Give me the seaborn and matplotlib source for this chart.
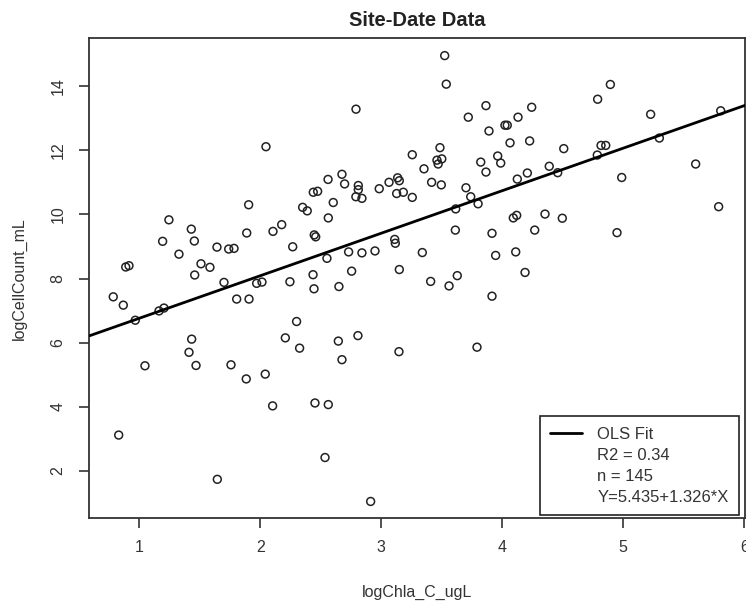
import matplotlib
matplotlib.use("Agg")
import matplotlib.pyplot as plt
from matplotlib.lines import Line2D
import numpy as np
import pandas as pd
import seaborn as sns

# ---- data ----
log_chla = [
    0.785, 0.868, 0.967, 1.163, 1.204, 1.458, 1.700, 1.805, 1.907, 1.970,
    2.014, 2.245, 2.436, 2.444, 2.650, 2.755, 3.149, 0.830, 1.047, 1.433,
    1.411, 1.469, 1.645, 1.758, 1.884, 2.041, 2.102, 2.207, 2.300, 2.325,
    2.452, 2.562, 2.535, 2.645, 2.675, 2.807, 2.912, 3.146, 3.408, 3.560,
    3.628, 3.915, 3.791, 4.188, 3.524, 3.537, 3.865, 3.719, 4.022, 4.041,
    4.130, 4.243, 3.890, 4.064, 4.226, 3.256, 3.485, 3.460, 3.500, 3.470,
    3.353, 3.416, 3.496, 3.182, 3.256, 3.822, 3.865, 3.962, 3.987, 3.700,
    3.739, 3.800, 3.615, 4.124, 4.207, 4.388, 4.458, 4.508, 4.788, 4.893,
    4.816, 4.855, 4.785, 4.987, 5.226, 5.298, 5.805, 5.598, 5.788, 3.612,
    3.915, 4.091, 4.119, 4.353, 4.496, 4.268, 4.948, 3.339, 3.945, 4.111,
    2.791, 2.047, 1.904, 1.245, 1.193, 1.430, 1.455, 1.328, 1.510, 1.584,
    0.888, 0.915, 1.642, 1.739, 1.783, 1.888, 2.105, 2.177, 2.268, 2.350,
    2.388, 2.438, 2.474, 2.560, 2.675, 2.697, 2.603, 2.562, 2.446, 2.458,
    2.810, 2.810, 2.790, 2.840, 2.983, 3.064, 3.135, 3.149, 3.127, 2.730,
    2.840, 2.948, 3.111, 3.116, 2.551,
]
log_cells = [
    7.43, 7.17, 6.70, 6.99, 7.08, 8.11, 7.88, 7.36, 7.36, 7.85,
    7.89, 7.90, 8.12, 7.68, 7.75, 8.23, 8.28, 3.12, 5.28, 6.11,
    5.70, 5.29, 1.74, 5.31, 4.87, 5.02, 4.03, 6.15, 6.66, 5.83,
    4.12, 4.07, 2.42, 6.05, 5.47, 6.22, 1.05, 5.72, 7.91, 7.77,
    8.09, 7.45, 5.86, 8.19, 14.95, 14.06, 13.39, 13.03, 12.78, 12.78,
    13.03, 13.34, 12.60, 12.23, 12.29, 11.86, 12.08, 11.69, 11.73, 11.57,
    11.42, 11.00, 10.92, 10.69, 10.53, 11.63, 11.32, 11.82, 11.60, 10.83,
    10.55, 10.33, 10.17, 11.10, 11.29, 11.50, 11.30, 12.05, 13.59, 14.05,
    12.15, 12.15, 11.85, 11.15, 13.12, 12.38, 13.23, 11.57, 10.24, 9.51,
    9.41, 9.89, 9.97, 10.01, 9.88, 9.51, 9.43, 8.81, 8.72, 8.83,
    13.28, 12.11, 10.30, 9.83, 9.16, 9.54, 9.17, 8.76, 8.46, 8.35,
    8.36, 8.40, 8.98, 8.92, 8.94, 9.42, 9.47, 9.68, 8.99, 10.22,
    10.11, 10.69, 10.72, 11.09, 11.25, 10.95, 10.37, 9.89, 9.36, 9.30,
    10.90, 10.77, 10.55, 10.50, 10.80, 11.00, 11.14, 11.05, 10.65, 8.83,
    8.80, 8.86, 9.22, 9.10, 8.63,
]
fit_intercept = 5.435
fit_slope = 1.326
legend_labels = ["OLS Fit", "R2 = 0.34", "n = 145", "Y=5.435+1.326*X"]
x_ticks = [1, 2, 3, 4, 5, 6]
y_ticks = [2, 4, 6, 8, 10, 12, 14]

df = pd.DataFrame({"logChla_C_ugL": log_chla, "logCellCount_mL": log_cells})

sns.set_theme(style="white")
plt.rcParams["font.family"] = ["Liberation Sans", "DejaVu Sans"]

fig = plt.figure(figsize=(7.46, 6.03), dpi=100)
ax = fig.add_axes([0.1197, 0.141, 0.879, 0.7955])

sns.scatterplot(data=df, x="logChla_C_ugL", y="logCellCount_mL", ax=ax,
                marker="o", s=32, facecolors="none", edgecolor="#222222",
                linewidth=1.1, zorder=3)

ax.axline((0, fit_intercept), slope=fit_slope, color="black", lw=2.0, zorder=4)

ax.set_xlim(0.587, 6.006)
ax.set_ylim(0.535, 15.49)
ax.set_xticks(x_ticks)
ax.set_yticks(y_ticks)
ax.set_xticklabels([str(t) for t in x_ticks])
ax.set_yticklabels([str(t) for t in y_ticks], rotation=90, va="center")

for sp in ax.spines.values():
    sp.set_visible(True)
    sp.set_color("#333333")
    sp.set_linewidth(1.3)

ax.tick_params(axis="both", which="major", direction="out", length=7,
               width=1.2, color="#333333", labelsize=11.5, labelcolor="#333333",
               bottom=True, left=True)
ax.tick_params(axis="x", pad=9)
ax.tick_params(axis="y", pad=10)

ax.set_xlabel("logChla_C_ugL", fontsize=11.5, color="#333333")
ax.set_ylabel("logCellCount_mL", fontsize=11.5, color="#333333")
ax.xaxis.set_label_coords(0.5, -0.14)
ax.yaxis.set_label_coords(-0.107, 0.5)
ax.xaxis.label.set_va("top")
ax.yaxis.label.set_va("center")

ax.set_title("Site-Date Data", fontsize=14.5, fontweight="bold", color="#222222", pad=9)

handles = [Line2D([], [], color="black", lw=2.0)] + \
          [Line2D([], [], color="none", lw=0) for _ in range(3)]
leg = ax.legend(handles, legend_labels, loc="lower right",
                bbox_to_anchor=(0.991, 0.006), borderaxespad=0,
                frameon=True, fancybox=False, edgecolor="#222222",
                fontsize=12, handlelength=1.9, handletextpad=0.95,
                labelspacing=0.36, borderpad=0.62, framealpha=1)
leg.get_frame().set_linewidth(1.2)
for t in leg.get_texts():
    t.set_color("#333333")

fig.savefig("out.png", dpi=100)
